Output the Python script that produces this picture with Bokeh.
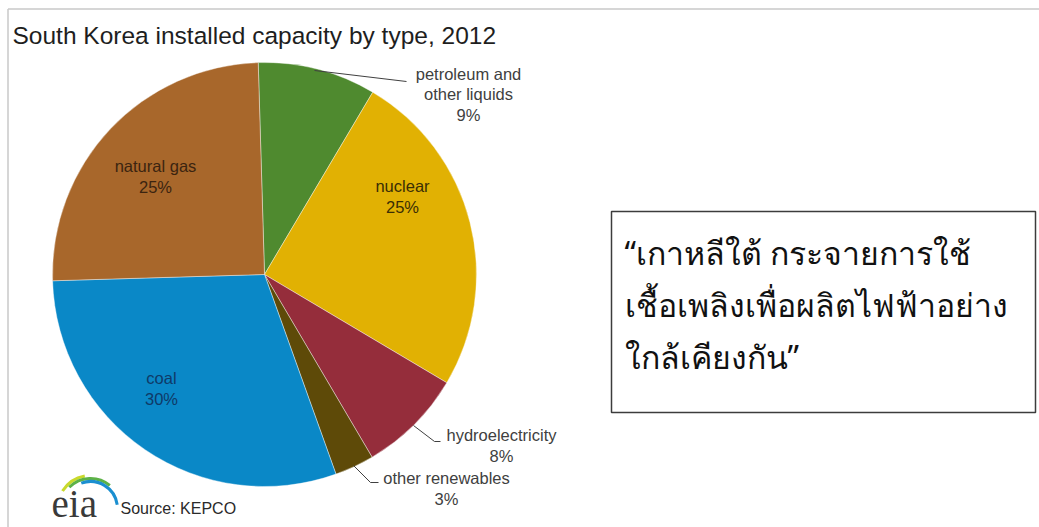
import math
from bokeh.plotting import figure
from bokeh.models import Range1d, ColumnDataSource
from bokeh.core.properties import value
from bokeh.embed import file_html
from bokeh.resources import INLINE

# ---- data ----
categories = ["petroleum and other liquids", "nuclear", "hydroelectricity",
              "other renewables", "coal", "natural gas"]
label_names = ["petroleum and\nother liquids", "nuclear", "hydroelectricity",
               "other renewables", "coal", "natural gas"]
shares = [9, 25, 8, 3, 30, 25]
colors = ["#4F8A2F", "#E1B103", "#952D3B", "#5E4A08", "#0A88C7", "#A8672B"]
label_colors = ["#404040", "#3A2E05", "#404040", "#404040", "#0F3A68", "#3B2410"]

title_text = "South Korea installed capacity by type, 2012"
source_text = "Source: KEPCO"
note_lines = ["\u201cเกาหลีใต้ กระจายการใช้",
              "เชื้อเพลิงเพื่อผลิตไฟฟ้าอย่าง",
              "ใกล้เคียงกัน\u201d"]

W, H = 1039, 527


def px(x):
    return x


def py(y):
    return H - y


p = figure(width=W, height=H, x_range=Range1d(0, W), y_range=Range1d(0, H),
           output_backend="svg", toolbar_location=None,
           x_axis_location=None, y_axis_location=None, min_border=0)
p.grid.visible = False
p.outline_line_color = None
p.background_fill_color = "white"
p.border_fill_color = "white"

# image frame (top and left)
p.segment(x0=[px(7.5), px(7.5)], y0=[py(8.5), py(8.5)], x1=[px(W), px(7.5)],
          y1=[py(8.5), py(H)], line_color="#C8C8C8", line_width=1.5)

# ---- pie ----
cx, cy, r = px(264), py(274), 212
start = math.radians(91.7)
total = sum(shares)
ends, starts = [], []
cum = 0
for s in shares:
    a_end = start - 2 * math.pi * cum / total
    cum += s
    a_start = start - 2 * math.pi * cum / total
    starts.append(a_start)
    ends.append(a_end)

src = ColumnDataSource(dict(cat=categories, share=shares, color=colors,
                            start=starts, end=ends))
p.wedge(x=cx, y=cy, radius=r, start_angle="start", end_angle="end",
        fill_color="color", line_color="white", line_width=0.4, source=src)

# ---- labels ----
label_pos = [(468, 94), (402, 196), (501, 445), (446, 488), (161, 388), (155, 176)]
lab_x = [px(a) for a, b in label_pos]
lab_y = [py(b) for a, b in label_pos]
lab_t = [f"{n}\n{s}%" for n, s in zip(label_names, shares)]
p.text(x=lab_x, y=lab_y, text=lab_t, text_color=label_colors,
       text_font=value("Liberation Sans"), text_font_size="16.5px",
       text_align="center", text_baseline="middle", text_line_height=1.15)

# leader lines
p.line(x=[px(314), px(406)], y=[py(70), py(81)], line_color="#404040", line_width=1)
p.line(x=[px(413), px(434), px(440)], y=[py(425), py(441), py(441)],
       line_color="#404040", line_width=1)
p.line(x=[px(353), px(370), px(378)], y=[py(465), py(482), py(482)],
       line_color="#404040", line_width=1)

# ---- title ----
p.text(x=[px(12)], y=[py(35)], text=[title_text], text_color="#1E1E1E",
       text_font=value("Liberation Sans"), text_font_size="24.5px",
       text_align="left", text_baseline="middle")

# ---- eia logo & source ----
p.arc(x=px(90), y=py(508), radius=33, start_angle=math.radians(100),
      end_angle=math.radians(148), line_color="#C9D92C", line_width=3)
p.arc(x=px(90), y=py(508), radius=30, start_angle=math.radians(50),
      end_angle=math.radians(135), line_color="#5DB247", line_width=3)
p.arc(x=px(90), y=py(508), radius=27, start_angle=math.radians(8),
      end_angle=math.radians(110), line_color="#1B8FD0", line_width=3)
p.text(x=[px(51)], y=[py(524)], text=["eia"], text_color="#3A3A3A",
       text_font=value("Liberation Serif"), text_font_size="39px",
       text_align="left", text_baseline="bottom")
p.text(x=[px(120)], y=[py(508)], text=[source_text], text_color="#2A2A2A",
       text_font=value("Liberation Sans"), text_font_size="16px",
       text_align="left", text_baseline="middle")

# ---- Thai note box ----
p.quad(left=px(611), right=px(1035), top=py(211), bottom=py(412),
       fill_color="white", line_color="#3C3C3C", line_width=1.5)
p.text(x=[px(624)] * 3, y=[py(252), py(304), py(356)], text=note_lines,
       text_color="#111111", text_font=value("Noto Sans"), text_font_size="32px",
       text_align="left", text_baseline="middle")

open("out.html", "w").write(file_html(p, INLINE))
